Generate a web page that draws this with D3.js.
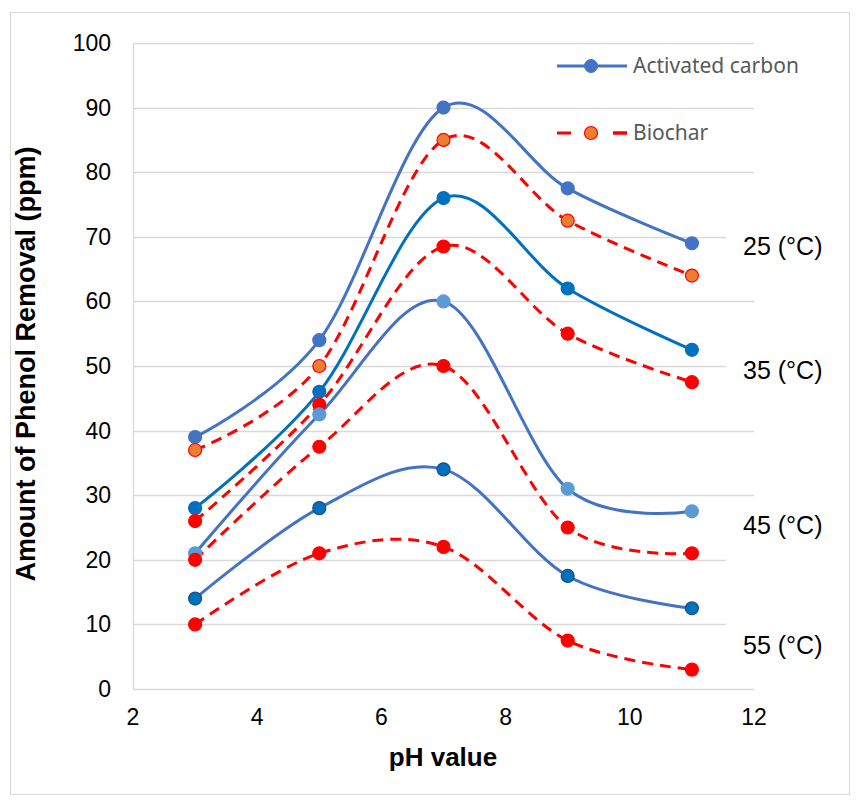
<!DOCTYPE html>
<html>
<head>
<meta charset="utf-8">
<script src="https://cdn.jsdelivr.net/npm/d3@7"></script>
<style>
  body { margin: 0; background: #fff; }
  svg { font-family: "Liberation Sans", Arial, sans-serif; }
</style>
</head>
<body>
<div id="container"></div>
<script>
// pH values on the x axis
const phValues = [3, 5, 7, 9, 11];

// phenol removal (ppm)
const carbon25 = [39, 54, 90, 77.5, 69];
const biochar25 = [37, 50, 85, 72.5, 64];
const carbon35 = [28, 46, 76, 62, 52.5];
const biochar35 = [26, 44, 68.5, 55, 47.5];
const carbon45 = [21, 42.5, 60, 31, 27.5];
const biochar45 = [20, 37.5, 50, 25, 21];
const carbon55 = [14, 28, 34, 17.5, 12.5];
const biochar55 = [10, 21, 22, 7.5, 3];

const xTicks = [2, 4, 6, 8, 10, 12];
const yTicks = [0, 10, 20, 30, 40, 50, 60, 70, 80, 90, 100];

// temperature annotations, placed at a y value
const tempLabels = ["25 (°C)", "35 (°C)", "45 (°C)", "55 (°C)"];
const tempLabelY = [68.6, 49.4, 25.4, 6.8];

const series = [
  { values: carbon25, line: "#4472C4", fill: "#4472C4", stroke: "#4472C4", dashed: false },
  { values: biochar25, line: "#FF0000", fill: "#ED7D31", stroke: "#FF0000", dashed: true },
  { values: carbon35, line: "#0070C0", fill: "#0070C0", stroke: "#0070C0", dashed: false },
  { values: biochar35, line: "#FF0000", fill: "#FF0000", stroke: "#FF0000", dashed: true },
  { values: carbon45, line: "#4472C4", fill: "#5B9BD5", stroke: "#5B9BD5", dashed: false },
  { values: biochar45, line: "#FF0000", fill: "#FF0000", stroke: "#FF0000", dashed: true },
  { values: carbon55, line: "#4472C4", fill: "#0070C0", stroke: "#1F4E79", dashed: false },
  { values: biochar55, line: "#FF0000", fill: "#FF0000", stroke: "#FF0000", dashed: true },
];

const width = 861, height = 804;
const svg = d3.select("#container").append("svg")
  .attr("width", width).attr("height", height);

// chart border
svg.append("rect")
  .attr("x", 10.5).attr("y", 12.5)
  .attr("width", 839).attr("height", 782)
  .attr("fill", "#fff").attr("stroke", "#D9D9D9");

const x = d3.scaleLinear().domain([2, 12]).range([133, 754]);
const y = d3.scaleLinear().domain([0, 100]).range([689, 43]);

// gridlines
svg.append("g").selectAll("line").data(yTicks.filter(d => d > 0)).join("line")
  .attr("x1", x(2)).attr("x2", x(12))
  .attr("y1", d => Math.round(y(d)) + 0.5).attr("y2", d => Math.round(y(d)) + 0.5)
  .attr("stroke", "#D9D9D9").attr("stroke-width", 1.3);

// axis lines
svg.append("line").attr("x1", x(2) + 0.5).attr("x2", x(2) + 0.5)
  .attr("y1", y(100)).attr("y2", y(0)).attr("stroke", "#D9D9D9").attr("stroke-width", 1.3);
svg.append("line").attr("x1", x(2)).attr("x2", x(12))
  .attr("y1", y(0) + 0.5).attr("y2", y(0) + 0.5).attr("stroke", "#D9D9D9").attr("stroke-width", 1.3);

// tick labels
svg.append("g").selectAll("text").data(yTicks).join("text")
  .attr("x", 111).attr("y", d => y(d)).attr("dy", "0.35em")
  .attr("text-anchor", "end").attr("font-size", 23).attr("fill", "#000")
  .text(d => d);
svg.append("g").selectAll("text").data(xTicks).join("text")
  .attr("x", d => x(d)).attr("y", 725)
  .attr("text-anchor", "middle").attr("font-size", 23).attr("fill", "#000")
  .text(d => d);

// axis titles
svg.append("text")
  .attr("transform", "translate(35,364) rotate(-90)")
  .attr("text-anchor", "middle").attr("font-size", 27).attr("font-weight", "bold")
  .text("Amount of Phenol Removal (ppm)");
svg.append("text")
  .attr("x", 443).attr("y", 766)
  .attr("text-anchor", "middle").attr("font-size", 26).attr("font-weight", "bold")
  .text("pH value");

// temperature labels with white boxes hiding the gridlines
const tl = svg.append("g").selectAll("g").data(tempLabels).join("g");
tl.append("rect")
  .attr("x", 726).attr("y", (d, i) => y(tempLabelY[i]) - 25)
  .attr("width", 110).attr("height", 65).attr("fill", "#fff");
tl.append("text")
  .attr("x", 743).attr("y", (d, i) => y(tempLabelY[i])).attr("dy", "0.35em")
  .attr("font-size", 25).attr("fill", "#000")
  .text(d => d);

// smoothed series lines
const line = d3.line()
  .x((d, i) => x(phValues[i]))
  .y(d => y(d))
  .curve(d3.curveCatmullRom.alpha(0));

const plot = svg.append("g");
series.forEach(s => {
  plot.append("path")
    .attr("d", line(s.values))
    .attr("fill", "none")
    .attr("stroke", s.line)
    .attr("stroke-width", 3)
    .attr("stroke-dasharray", s.dashed ? "11,7" : null);
});
series.forEach(s => {
  plot.append("g").selectAll("circle").data(s.values).join("circle")
    .attr("cx", (d, i) => x(phValues[i]))
    .attr("cy", d => y(d))
    .attr("r", 6.5)
    .attr("fill", s.fill)
    .attr("stroke", s.stroke)
    .attr("stroke-width", 1.2);
});

// legend
const legend = svg.append("g").attr("font-family", "'Noto Sans', 'Open Sans', sans-serif");
legend.append("line").attr("x1", 557).attr("x2", 627).attr("y1", 66).attr("y2", 66)
  .attr("stroke", "#4472C4").attr("stroke-width", 3);
legend.append("circle").attr("cx", 591).attr("cy", 66).attr("r", 6.5)
  .attr("fill", "#4472C4").attr("stroke", "#4472C4");
legend.append("text").attr("x", 633).attr("y", 66).attr("dy", "0.35em")
  .attr("font-size", 21).attr("fill", "#595959").text("Activated carbon");
legend.append("line").attr("x1", 557).attr("x2", 627).attr("y1", 133).attr("y2", 133)
  .attr("stroke", "#FF0000").attr("stroke-width", 3).attr("stroke-dasharray", "14,42");
legend.append("line").attr("x1", 613).attr("x2", 627).attr("y1", 133).attr("y2", 133)
  .attr("stroke", "#FF0000").attr("stroke-width", 3);
legend.append("circle").attr("cx", 591).attr("cy", 133).attr("r", 6.5)
  .attr("fill", "#ED7D31").attr("stroke", "#FF0000").attr("stroke-width", 1.2);
legend.append("text").attr("x", 633).attr("y", 133).attr("dy", "0.35em")
  .attr("font-size", 21).attr("fill", "#595959").text("Biochar");
</script>
</body>
</html>
